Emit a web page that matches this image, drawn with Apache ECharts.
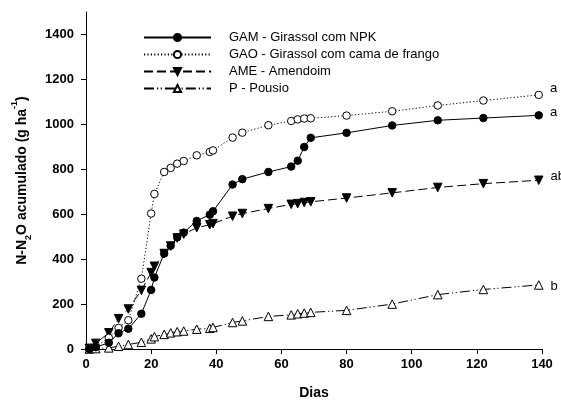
<!DOCTYPE html>
<html>
<head>
<meta charset="utf-8">
<script src="https://cdn.jsdelivr.net/npm/echarts@6/dist/echarts.min.js"></script>
<style>html,body{margin:0;padding:0;background:#fff}#c{width:561px;height:401px}</style>
</head>
<body>
<div id="c"></div>
<script>
const days = [1,3,7,10,13,17,20,21,24,26,28,30,34,38,39,45,48,56,63,65,67,69,80,94,108,122,139];
const gam = [0,8,28,70,90,157,263,318,425,460,497,518,570,598,613,732,756,788,812,838,899,940,962,995,1018,1028,1040];
const gao = [2,10,50,94,128,313,603,690,788,806,825,837,862,877,884,941,963,996,1015,1022,1026,1027,1039,1058,1084,1106,1131];
const ame = [3,25,72,135,178,261,340,368,425,458,494,511,540,553,558,591,603,625,644,647,652,655,672,695,719,736,751];
const pousio = [0,2,5,12,20,30,45,55,65,72,77,80,88,92,96,118,125,145,152,157,160,163,172,200,242,265,285];
const seriesNames = ['GAM - Girassol com NPK','GAO - Girassol com cama de frango','AME - Amendoim','P - Pousio'];
const letters = ['a','a','ab','b'];
const xTicks = [0,20,40,60,80,100,120,140];
const yTicks = [0,200,400,600,800,1000,1200,1400];

const FONT = "'Liberation Sans', Arial, sans-serif";
const letterOffsets = [[0,-3],[0,-6],[0,-4],[0,1]];

function mk(vals, idx) {
  return days.map((d, i) => {
    const item = { value: [d, vals[i]] };
    if (i === days.length - 1) {
      item.label = { show: true, formatter: letters[idx], position: 'right', distance: 7,
        offset: letterOffsets[idx], color: '#000', fontSize: 13, fontFamily: FONT };
    }
    return item;
  });
}

const styles = [
  { symbol: 'circle', rot: 0, fill: '#000', line: 'solid' },
  { symbol: 'circle', rot: 0, fill: '#fff', line: [1.2,2.2] },
  { symbol: 'triangle', rot: 180, fill: '#000', line: [9,4] },
  { symbol: 'triangle', rot: 0, fill: '#fff', line: [10,3,1.2,2.5,1.2,3] }
];
const vals = [gam, gao, ame, pousio];

const series = vals.map((v, k) => ({
  name: seriesNames[k],
  type: 'line',
  data: mk(v, k),
  symbol: styles[k].symbol,
  symbolRotate: styles[k].rot,
  symbolSize: k >= 2 ? 8.5 : 7.5,
  showAllSymbol: true,
  clip: false,
  z: 10 - k,
  lineStyle: { color: '#000', width: 1, type: styles[k].line },
  itemStyle: { color: styles[k].fill, borderColor: '#000', borderWidth: 1 },
  emphasis: { disabled: true },
  animation: false
}));

const chart = echarts.init(document.getElementById('c'), null, { renderer: 'canvas' });
chart.setOption({
  animation: false,
  backgroundColor: '#fff',
  grid: { left: 86, right: 19, top: 12, bottom: 52, containLabel: false, outerBoundsMode: 'none' },
  legend: {
    orient: 'vertical', left: 143, top: 31, padding: 0,
    itemWidth: 67, itemHeight: 9, itemGap: 4,
    data: seriesNames,
    textStyle: { color: '#000', fontSize: 13, fontFamily: FONT, padding: [0,0,0,13] }
  },
  xAxis: {
    type: 'value', min: 0, max: 140, interval: 20,
    name: 'Dias', nameLocation: 'middle', nameGap: 37,
    nameTextStyle: { fontSize: 14, fontWeight: 'bold', color: '#000', fontFamily: FONT },
    axisLine: { lineStyle: { color: '#000', width: 1 } },
    axisTick: { length: 5, lineStyle: { color: '#000' } },
    axisLabel: { color: '#000', fontSize: 13, fontWeight: 'bold', fontFamily: FONT, margin: 9,
      customValues: xTicks, formatter: v => String(v) },
    splitLine: { show: false }
  },
  yAxis: {
    type: 'value', min: 0, max: 1500,
    name: 'N-N{sub|2}O acumulado (g ha{sup|-1})', nameLocation: 'middle', nameGap: 57, nameRotate: 90,
    nameTextStyle: { fontSize: 14, fontWeight: 'bold', color: '#000', fontFamily: FONT,
      rich: {
        sub: { fontSize: 9, fontWeight: 'bold', verticalAlign: 'bottom', padding: [0,0,-4,0], fontFamily: FONT },
        sup: { fontSize: 9, fontWeight: 'bold', verticalAlign: 'top', padding: [-5,0,0,0], fontFamily: FONT }
      } },
    axisLine: { show: true, lineStyle: { color: '#000', width: 1 } },
    axisTick: { show: true, length: 5, lineStyle: { color: '#000' }, customValues: yTicks },
    axisLabel: { color: '#000', fontSize: 13, fontWeight: 'bold', fontFamily: FONT, margin: 12,
      customValues: yTicks, formatter: v => String(v) },
    splitLine: { show: false }
  },
  series: series
});
</script>
</body>
</html>
